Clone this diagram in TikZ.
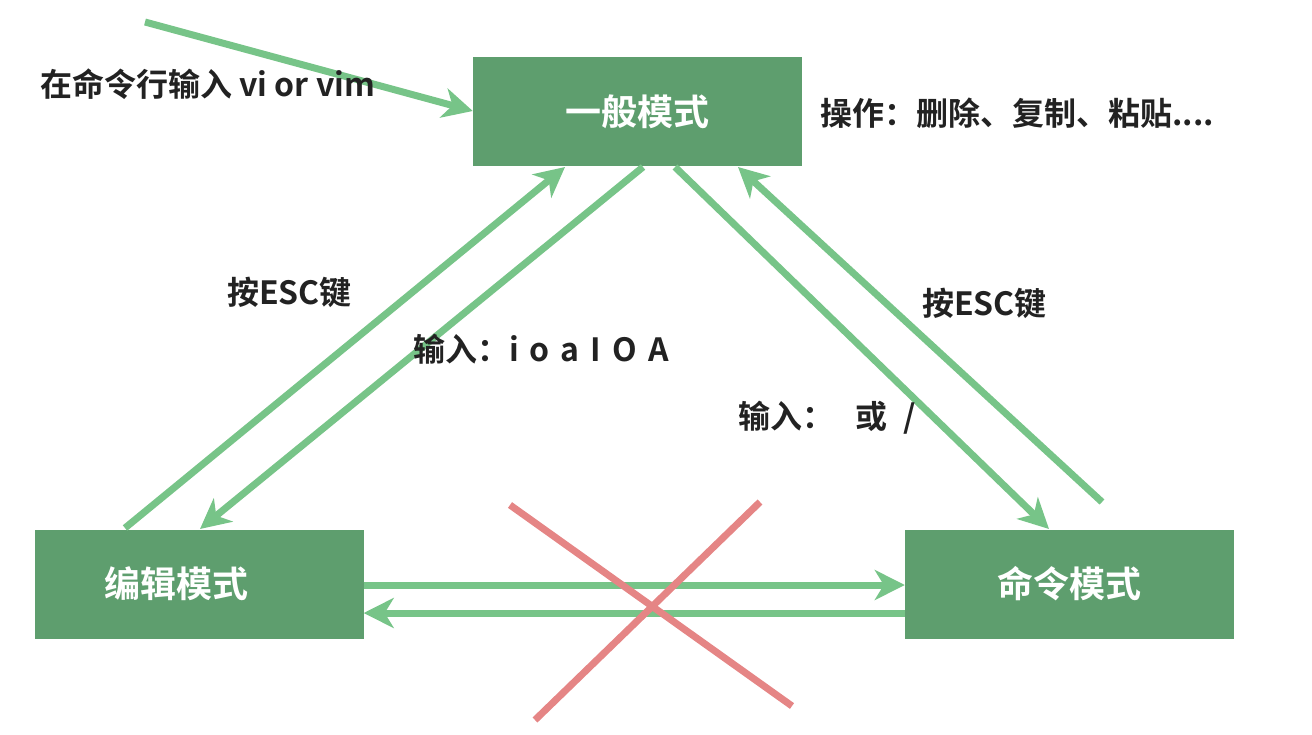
\documentclass[tikz,border=0pt]{standalone}
\usepackage{fontspec}
\setmainfont{Noto Sans CJK SC}[BoldFont={* Bold}]
\usetikzlibrary{arrows.meta}
\definecolor{boxgreen}{HTML}{5E9E6E}
\definecolor{arrgreen}{HTML}{77C488}
\definecolor{crossred}{HTML}{E58585}
\definecolor{txt}{HTML}{222222}
\newcommand{\gp}{\hspace{11pt}}
\tikzset{
  modebox/.style={fill=boxgreen, draw=none, minimum width=329pt, minimum height=109pt, inner sep=0pt, text=white, font=\bfseries\fontsize{36}{36}\selectfont},
  conn/.style={draw=arrgreen, line width=7pt, -{Stealth[length=30pt,width=30pt,inset=9pt]}},
  crossline/.style={draw=crossred, line width=7pt},
  lbl/.style={text=txt, font=\bfseries\fontsize{32}{32}\selectfont, inner sep=0pt, anchor=west}
}
\begin{document}
\begin{tikzpicture}[x=1pt,y=-1pt]
\useasboundingbox (0,0) rectangle (1312,734);
\node[modebox] (gen) at (637.5,111.5) {一般模式};
\node[modebox] (edit) at (199,584) {\hspace*{-46pt}编辑模式};
\node[modebox] (cmd) at (1069.5,584) {命令模式};
\coordinate (start) at (145,22);
\coordinate (g1) at (565,167);
\coordinate (g2) at (643,167);
\coordinate (g3) at (675,167);
\coordinate (g4) at (738,167);
\coordinate (e1) at (125,528);
\coordinate (e2) at (200,529);
\coordinate (c1) at (1049,529);
\coordinate (c2) at (1102,502);
\draw[conn] (start) -- (gen.west |- 0,111);
\draw[conn] (e1) -- (g1);
\draw[conn] (g2) -- (e2);
\draw[conn] (g3) -- (c1);
\draw[conn] (c2) -- (g4);
\draw[conn] (edit.east |- 0,585) -- (cmd.west |- 0,585);
\draw[conn] (cmd.west |- 0,613) -- (edit.east |- 0,613);
\coordinate (x1) at (510,505);
\coordinate (x2) at (792,706);
\coordinate (x3) at (760,502);
\coordinate (x4) at (535,720);
\draw[crossline] (x1) -- (x2);
\draw[crossline] (x3) -- (x4);
\node[lbl] (t1) at (40,84) {在命令行输入 vi or vim};
\node[lbl] (t2) at (820,113) {操作：删除、复制、粘贴....};
\node[lbl] (t3) at (227,292) {按ESC键};
\node[lbl] (t4) at (413,349) {输入：i\gp o\gp a\gp I\gp O\gp A};
\node[lbl] (t5) at (922,303) {按ESC键};
\node[lbl] (t6) at (738,418) {输入：\hspace{21pt}或\hspace{16pt}/};
\end{tikzpicture}
\end{document}
